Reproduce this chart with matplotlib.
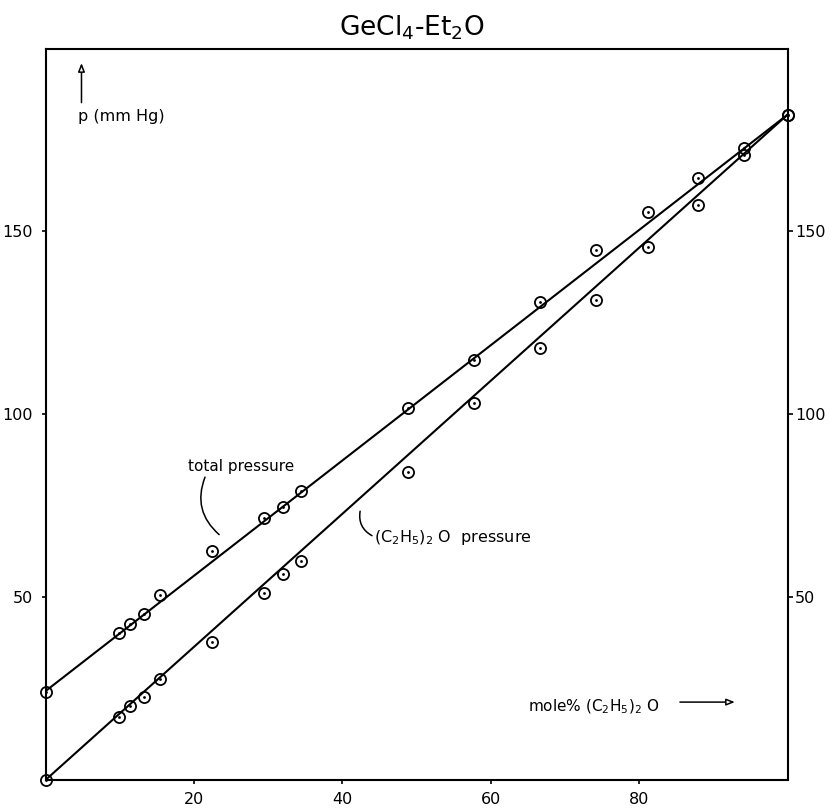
import matplotlib
matplotlib.use("Agg")
import matplotlib.pyplot as plt

# Composition of the liquid, mole % diethyl ether
mole_pct_ether = [0, 9.9, 11.4, 13.3, 15.4, 22.5, 29.4, 32.0, 34.5, 48.9,
                  57.7, 66.7, 74.2, 81.2, 87.9, 94.2, 100]
# Measured total vapour pressure, mm Hg
p_total = [24.1, 40.3, 42.6, 45.5, 50.5, 62.5, 71.5, 74.7, 78.9, 101.8,
           114.8, 130.7, 144.9, 155.2, 164.6, 172.9, 181.9]
# Measured partial pressure of (C2H5)2O, mm Hg
p_ether = [0, 17.3, 20.2, 22.7, 27.6, 37.8, 51.2, 56.2, 59.9, 84.3,
           103.1, 118.2, 131.2, 145.7, 157.2, 170.9, 181.9]

# Smoothed curves drawn through the measurements
curve_x = [0, 100]
curve_total = [24.3, 181.9]
curve_ether = [0, 181.9]

x_ticks = [20, 40, 60, 80]
y_ticks = [50, 100, 150]

plt.rcParams["font.family"] = ["DejaVu Sans"]
plt.rcParams["mathtext.fontset"] = "dejavusans"

W, H = 830, 811
fig = plt.figure(figsize=(W / 100, H / 100), dpi=100, facecolor="white")
ax = fig.add_axes([45.5 / W, 31 / H, 742 / W, 731.5 / H])
ax.set_xlim(0, 100)
ax.set_ylim(0, 200)

for s in ax.spines.values():
    s.set_linewidth(1.5)

line_kw = dict(color="black", lw=1.5, solid_capstyle="round", zorder=2)
ax.plot(curve_x, curve_total, **line_kw)
ax.plot(curve_x, curve_ether, **line_kw)

ring_kw = dict(ls="none", marker="o", ms=8, mfc="none", mec="black",
               mew=1.3, clip_on=False, zorder=3)
dot_kw = dict(ls="none", marker="o", ms=2.0, mfc="black", mec="black",
              mew=0, clip_on=False, zorder=3)
for series in (p_total, p_ether):
    ax.plot(mole_pct_ether, series, **ring_kw)
    ax.plot(mole_pct_ether, series, **dot_kw)

# Axes ticks: bottom and left on the main axes, right on a twin
ax.set_xticks(x_ticks)
ax.set_yticks(y_ticks)
ax.tick_params(axis="both", direction="out", length=3, width=1.2,
               labelsize=11.5, pad=6, top=False, right=False)
twin = ax.twinx()
twin.set_ylim(ax.get_ylim())
twin.set_yticks(y_ticks)
twin.tick_params(axis="y", direction="out", length=3.5, width=1.2,
                 labelsize=11.5, pad=2)
for s in twin.spines.values():
    s.set_visible(False)

# Axis captions
ax.text(4.4, 180.2, "p (mm Hg)", fontsize=11.5, ha="left", va="baseline")
ax.annotate("", xy=(4.85, 196.0), xytext=(4.85, 185.2),
            arrowprops=dict(arrowstyle="-|>,head_length=0.5,head_width=0.2",
                            fc="white", ec="black", lw=1.1,
                            shrinkA=0, shrinkB=0, mutation_scale=10))
ax.text(65.0, 18.8, r"mole% (C$_2$H$_5$$)_2$ O", fontsize=11,
        ha="left", va="baseline")
ax.annotate("", xy=(92.9, 21.3), xytext=(85.5, 21.3),
            arrowprops=dict(arrowstyle="-|>,head_length=0.5,head_width=0.2",
                            fc="white", ec="black", lw=1.1,
                            shrinkA=0, shrinkB=0, mutation_scale=10))

# Curve labels with curved leaders
ax.text(26.4, 84.6, "total pressure", fontsize=11, ha="center", va="baseline")
ax.annotate("", xy=(23.4, 67.1), xytext=(21.5, 82.8),
            arrowprops=dict(arrowstyle="-", lw=1.1, shrinkA=0, shrinkB=0,
                            connectionstyle="arc3,rad=0.35"))
ax.text(44.3, 65.0, r"(C$_2$H$_5$$)_2$ O  pressure", fontsize=11.5,
        ha="left", va="baseline")
ax.annotate("", xy=(44.0, 66.8), xytext=(42.4, 73.5),
            arrowprops=dict(arrowstyle="-", lw=1.1, shrinkA=0, shrinkB=0,
                            connectionstyle="arc3,rad=0.35"))

fig.text(412 / W, 1 - 35 / H, r"GeCl$_4$-Et$_2$O", fontsize=19,
         ha="center", va="baseline")

fig.savefig("out.png", dpi=100, facecolor="white")
